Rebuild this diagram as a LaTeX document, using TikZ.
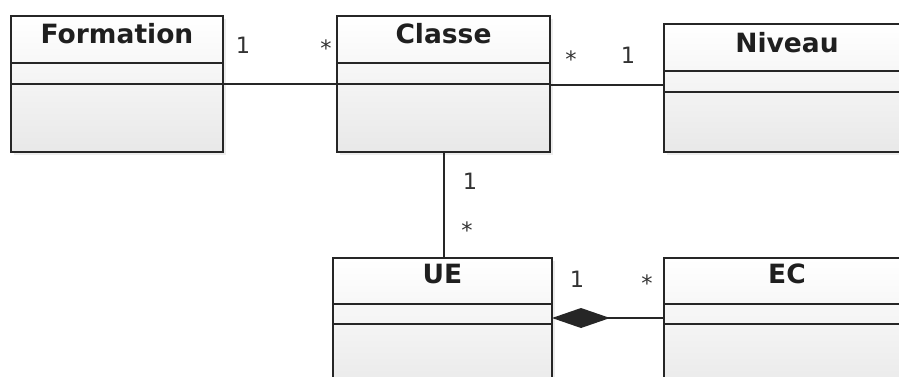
\documentclass[tikz,border=0pt]{standalone}
\usepackage{fontspec}
\setmainfont{DejaVu Sans}
\usetikzlibrary{arrows.meta,shadows}
\begin{document}
\begin{tikzpicture}[x=1pt,y=-1pt,
  umlbox/.style={draw=black!85, line width=1.8pt, rectangle, anchor=north west,
    inner sep=0pt, outer sep=0pt, top color=white, bottom color=black!9,
    drop shadow={opacity=0.15, shadow xshift=3pt, shadow yshift=-3pt}},
  divider/.style={draw=black!85, line width=1.6pt},
  conn/.style={draw=black!85, line width=1.6pt},
  title/.style={font=\bfseries\fontsize{26.5}{31}\selectfont, inner sep=0pt, anchor=base, text=black!88},
  mult/.style={font=\fontsize{22.5}{27}\selectfont, inner sep=0pt, anchor=base, text=black!80}]
\clip (0,0) rectangle (899,376);
\fill[white] (0,0) rectangle (899,376);
% boxes
\node[umlbox, minimum width=212pt, minimum height=136pt] (form) at (11,16) {};
\node[umlbox, minimum width=213pt, minimum height=136pt] (classe) at (337,16) {};
\node[umlbox, minimum width=246pt, minimum height=128pt] (niveau) at (664,24) {};
\node[umlbox, minimum width=219pt, minimum height=140pt] (ue) at (333,258) {};
\node[umlbox, minimum width=246pt, minimum height=140pt] (ec) at (664,258) {};
% dividers
\draw[divider] (form.west |- 0,63) -- (form.east |- 0,63);
\draw[divider] (form.west |- 0,84) -- (form.east |- 0,84);
\draw[divider] (classe.west |- 0,63) -- (classe.east |- 0,63);
\draw[divider] (classe.west |- 0,84) -- (classe.east |- 0,84);
\draw[divider] (niveau.west |- 0,71) -- (niveau.east |- 0,71);
\draw[divider] (niveau.west |- 0,92) -- (niveau.east |- 0,92);
\draw[divider] (ue.west |- 0,304) -- (ue.east |- 0,304);
\draw[divider] (ue.west |- 0,324) -- (ue.east |- 0,324);
\draw[divider] (ec.west |- 0,304) -- (ec.east |- 0,304);
\draw[divider] (ec.west |- 0,324) -- (ec.east |- 0,324);
% titles
\node[title] (tform) at ([yshift=-27pt]form.north) {Formation};
\node[title] (tclasse) at ([yshift=-27pt]classe.north) {Classe};
\node[title] (tniveau) at ([yshift=-28pt]niveau.north) {Niveau};
\node[title] (tue) at ([yshift=-25pt]ue.north) {UE};
\node[title] (tec) at ([yshift=-25pt]ec.north) {EC};
% connectors
\draw[conn] (form.east |- 0,84) -- (classe.west |- 0,84);
\draw[conn] (classe.east |- 0,85) -- (niveau.west |- 0,85);
\draw[conn] ([xshift=0.5pt]classe.south) -- ([xshift=0.5pt]classe.south |- ue.north);
\draw[conn, {Diamond[length=58pt,width=20pt]}-] (ue.east |- 0,318) -- (ec.west |- 0,318);
% multiplicities
\node[mult] (m1) at (243,53.5) {1};
\node[mult] (m2) at (326,56) {*};
\node[mult] (m3) at (571,67) {*};
\node[mult] (m4) at (628,63.5) {1};
\node[mult] (m5) at (470,189.5) {1};
\node[mult] (m6) at (467,238) {*};
\node[mult] (m7) at (577,287.5) {1};
\node[mult] (m8) at (647,291) {*};
\end{tikzpicture}
\end{document}
